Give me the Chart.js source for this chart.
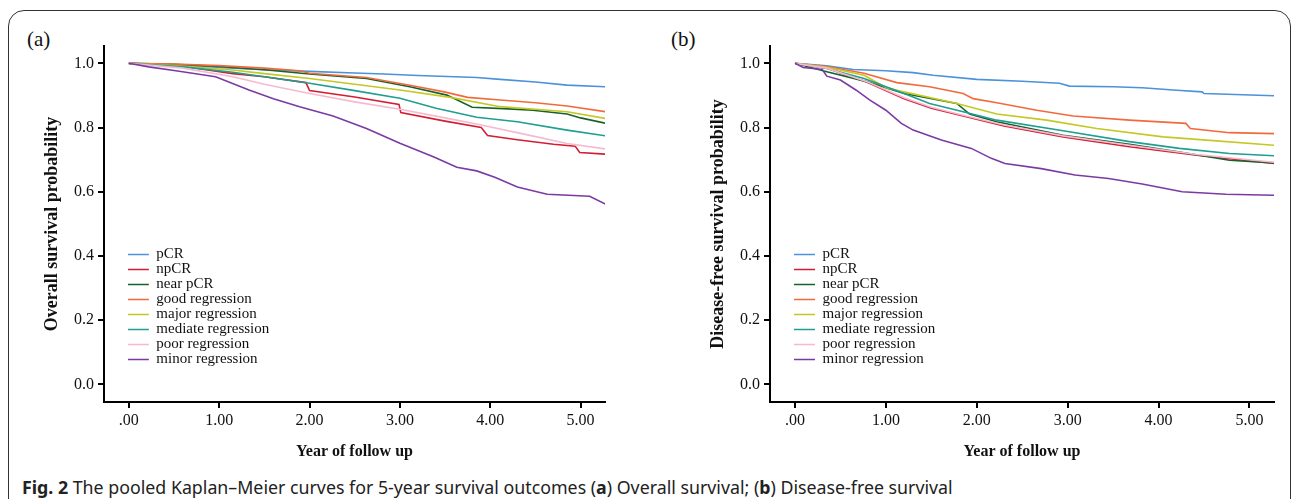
<!DOCTYPE html>
<html lang="en">
<head>
<meta charset="UTF-8" />
<title>Pooled Kaplan–Meier curves</title>
<script src="https://cdn.jsdelivr.net/npm/chart.js"></script>
<style>
    html, body { margin: 0; padding: 0; background: #fff; }
    body { width: 1292px; height: 499px; overflow: hidden; position: relative; }
    .frame {
        position: absolute; left: 8px; top: 10px; width: 1283px; height: 600px;
        border: 1.5px solid #333; border-radius: 16px; box-sizing: border-box;
    }
    .panel { position: absolute; top: 0; }
    .tag { position: absolute; top: 27px; font-family: "Liberation Serif", serif; font-size: 21px; color: #111; }
    .caption {
        position: absolute; left: 22px; top: 475px; white-space: nowrap;
        font-family: "Noto Sans", sans-serif; font-size: 17.8px; color: #222;
    }
</style>
</head>
<body>
<div class="frame"></div>
<div class="tag" style="left:27px">(a)</div>
<div class="tag" style="left:671px">(b)</div>
<canvas id="osChart" class="panel" style="left:0" width="640" height="470"></canvas>
<canvas id="dfsChart" class="panel" style="left:666px" width="640" height="470"></canvas>
<div class="caption"><b>Fig. 2</b> The pooled Kaplan–Meier curves for 5-year survival outcomes (<b>a</b>) Overall survival; (<b>b</b>) Disease-free survival</div>

<script>
const groups = ['pCR', 'npCR', 'near pCR', 'good regression', 'major regression',
    'mediate regression', 'poor regression', 'minor regression'];
const groupColors = ['#4b92da', '#d21f33', '#17622b', '#f26a3c', '#c4c823',
    '#1f9e91', '#f6b9d0', '#7b3aa3'];

const xTicks = [0, 1, 2, 3, 4, 5];
const xTickLabels = ['.00', '1.00', '2.00', '3.00', '4.00', '5.00'];
const yTicks = [0, 0.2, 0.4, 0.6, 0.8, 1.0];
const yTickLabels = ['0.0', '0.2', '0.4', '0.6', '0.8', '1.0'];

// overall survival, [year, probability]
const osPCR = [[0,1],[0.5,0.995],[1.0,0.987],[1.5,0.98],[2.0,0.975],[2.5,0.97],[2.82,0.967],[3.2,0.962],[3.85,0.956],[4.11,0.95],[4.5,0.942],[4.85,0.932],[5.28,0.927]];
const osNpCR = [[0,1],[0.5,0.995],[1.15,0.968],[1.5,0.958],[1.96,0.94],[2.0,0.915],[2.5,0.895],[2.99,0.872],[3.01,0.847],[3.5,0.82],[3.9,0.80],[3.97,0.775],[4.3,0.762],[4.7,0.748],[4.94,0.742],[4.99,0.722],[5.28,0.717]];
const osNear = [[0,1],[0.5,0.997],[1.0,0.99],[1.5,0.98],[2.0,0.967],[2.63,0.953],[3.11,0.927],[3.52,0.901],[3.8,0.863],[4.2,0.858],[4.47,0.854],[4.85,0.842],[5.0,0.83],[5.28,0.813]];
const osGood = [[0,1],[0.5,0.998],[1.0,0.993],[1.5,0.985],[1.89,0.977],[2.0,0.969],[2.63,0.956],[3.11,0.932],[3.49,0.911],[3.75,0.894],[4.11,0.886],[4.5,0.877],[4.85,0.867],[5.28,0.849]];
const osMajor = [[0,1],[0.5,0.993],[1.15,0.979],[1.5,0.968],[2.0,0.953],[2.5,0.935],[3.0,0.917],[3.56,0.894],[4.11,0.865],[4.5,0.857],[4.85,0.849],[5.28,0.828]];
const osMediate = [[0,1],[0.6,0.989],[1.15,0.972],[1.5,0.958],[2.0,0.938],[2.5,0.915],[3.0,0.891],[3.4,0.86],[3.85,0.832],[4.3,0.818],[4.85,0.792],[5.28,0.774]];
const osPoor = [[0,1],[0.6,0.985],[1.15,0.958],[1.5,0.935],[2.0,0.906],[2.5,0.88],[3.0,0.857],[3.5,0.83],[3.9,0.808],[4.4,0.778],[4.85,0.75],[5.28,0.733]];
const osMinor = [[0,1],[0.22,0.989],[0.52,0.977],[0.96,0.958],[1.33,0.917],[1.6,0.89],[1.89,0.865],[2.26,0.836],[2.63,0.797],[3.0,0.751],[3.37,0.709],[3.63,0.676],[3.85,0.665],[4.05,0.645],[4.3,0.615],[4.63,0.592],[5.1,0.586],[5.28,0.561]];

// disease-free survival, [year, probability]
const dfsPCR = [[0,1],[0.35,0.992],[0.64,0.981],[1.0,0.977],[1.3,0.971],[1.52,0.963],[2.0,0.95],[2.5,0.944],[2.91,0.938],[3.02,0.929],[3.5,0.927],[3.82,0.924],[4.2,0.916],[4.48,0.911],[4.5,0.906],[5.27,0.899]];
const dfsNpCR = [[0,1],[0.35,0.985],[0.8,0.94],[1.2,0.89],[1.5,0.86],[1.85,0.836],[2.3,0.805],[2.95,0.771],[3.68,0.74],[4.42,0.714],[5.27,0.688]];
const dfsNear = [[0,1],[0.35,0.974],[0.79,0.943],[1.2,0.906],[1.78,0.875],[1.92,0.842],[2.22,0.818],[2.95,0.776],[3.68,0.748],[4.23,0.724],[4.78,0.698],[5.27,0.69]];
const dfsGood = [[0,1],[0.35,0.99],[0.76,0.969],[1.12,0.94],[1.48,0.927],[1.85,0.906],[1.96,0.89],[2.22,0.877],[2.66,0.854],[3.06,0.836],[3.68,0.823],[4.3,0.813],[4.35,0.797],[4.78,0.784],[5.27,0.781]];
const dfsMajor = [[0,1],[0.35,0.988],[0.76,0.963],[1.0,0.925],[1.2,0.911],[1.78,0.875],[2.22,0.842],[2.77,0.823],[3.32,0.797],[4.05,0.771],[4.42,0.763],[5.27,0.745]];
const dfsMediate = [[0,1],[0.35,0.984],[0.76,0.953],[1.2,0.906],[1.48,0.875],[1.85,0.849],[2.22,0.823],[2.95,0.79],[3.68,0.756],[4.23,0.735],[4.78,0.719],[5.27,0.712]];
const dfsPoor = [[0,1],[0.35,0.985],[0.8,0.942],[1.2,0.893],[1.5,0.863],[1.85,0.838],[2.3,0.808],[2.95,0.774],[3.68,0.745],[4.42,0.716],[5.27,0.692]];
const dfsMinor = [[0,1],[0.09,0.987],[0.3,0.981],[0.35,0.96],[0.5,0.948],[0.67,0.917],[0.82,0.886],[1.0,0.854],[1.17,0.813],[1.3,0.792],[1.61,0.761],[1.94,0.735],[2.16,0.704],[2.31,0.688],[2.71,0.672],[3.08,0.652],[3.45,0.641],[3.82,0.624],[4.26,0.6],[4.74,0.592],[5.27,0.589]];

const osCurves = [osPCR, osNpCR, osNear, osGood, osMajor, osMediate, osPoor, osMinor];
const dfsCurves = [dfsPCR, dfsNpCR, dfsNear, dfsGood, dfsMajor, dfsMediate, dfsPoor, dfsMinor];

const serif = '"Liberation Serif", "Times New Roman", serif';

// put the legend inside the plot, starting at year 0
const legendSpot = {
    id: 'legendSpot',
    afterLayout(chart) {
        const lg = chart.legend;
        const area = chart.chartArea;
        lg.left = chart.scales.x.getPixelForValue(0) - 1;
        lg.top = 247;
        lg.right = area.right;
        lg.bottom = area.bottom;
        lg.width = lg.right - lg.left;
        lg.height = lg.bottom - lg.top;
    }
};

function makeChart(id, curves, yTitle, padRight) {
    return new Chart(document.getElementById(id), {
        type: 'line',
        data: {
            datasets: curves.map((c, i) => ({
                label: groups[i],
                data: c.map(p => ({ x: p[0], y: p[1] })),
                borderColor: groupColors[i],
                backgroundColor: groupColors[i],
                borderWidth: 1.6,
                pointRadius: 0,
                tension: 0,
                order: -i
            }))
        },
        options: {
            responsive: false,
            animation: false,
            layout: { padding: { left: 0, top: 46, right: padRight, bottom: 8 } },
            plugins: {
                legend: {
                    position: 'chartArea',
                    align: 'start',
                    labels: {
                        boxWidth: 21,
                        boxHeight: 0,
                        padding: 0,
                        color: '#111',
                        font: { family: serif, size: 15 },
                        sort: (a, b) => a.datasetIndex - b.datasetIndex
                    }
                },
                tooltip: { enabled: false }
            },
            scales: {
                x: {
                    type: 'linear',
                    min: -0.275,
                    max: 5.27,
                    afterBuildTicks: s => { s.ticks = xTicks.map(v => ({ value: v })); },
                    afterFit: s => { s.height = 60; },
                    ticks: {
                        autoSkip: false,
                        maxRotation: 0,
                        padding: 3,
                        color: '#111',
                        font: { family: serif, size: 16 },
                        callback: (v, i) => xTickLabels[i]
                    },
                    grid: { drawOnChartArea: false, color: '#000', lineWidth: 2, tickLength: 6 },
                    border: { display: true, color: '#000', width: 2 },
                    title: {
                        display: true,
                        text: 'Year of follow up',
                        color: '#111',
                        font: { family: serif, size: 16, weight: 'bold' },
                        padding: { top: 0, bottom: 1 }
                    }
                },
                y: {
                    min: -0.055,
                    max: 1.054,
                    afterBuildTicks: s => { s.ticks = yTicks.map(v => ({ value: v })); },
                    afterFit: s => { s.width = 104; },
                    ticks: {
                        autoSkip: false,
                        padding: 4,
                        color: '#111',
                        font: { family: serif, size: 16 },
                        callback: (v, i) => yTickLabels[i]
                    },
                    grid: { drawOnChartArea: false, color: '#000', lineWidth: 2, tickLength: 6 },
                    border: { display: true, color: '#000', width: 2 },
                    title: {
                        display: true,
                        text: yTitle,
                        color: '#111',
                        font: { family: serif, size: 18, weight: 'bold' },
                        padding: { top: 42, bottom: 0 }
                    }
                }
            }
        },
        plugins: [legendSpot]
    });
}

makeChart('osChart', osCurves, 'Overall survival probability', 35);
makeChart('dfsChart', dfsCurves, 'Disease-free survival probability', 32);
</script>
</body>
</html>
